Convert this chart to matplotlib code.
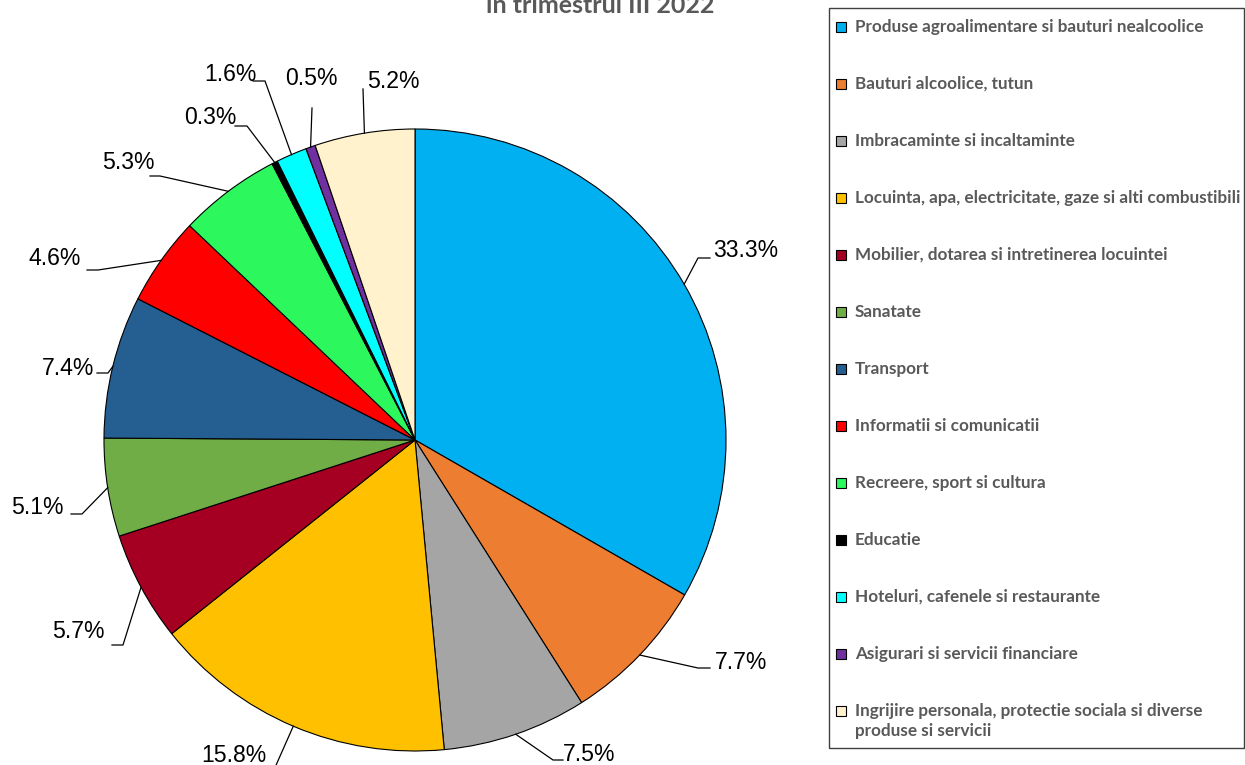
import numpy as np
import matplotlib.pyplot as plt
from matplotlib.patches import Rectangle

# Data
categories = [
    'Produse agroalimentare si bauturi nealcoolice',
    'Bauturi alcoolice, tutun',
    'Imbracaminte si incaltaminte',
    'Locuinta, apa, electricitate, gaze si alti combustibili',
    'Mobilier, dotarea si intretinerea locuintei',
    'Sanatate',
    'Transport',
    'Informatii si comunicatii',
    'Recreere, sport si cultura',
    'Educatie',
    'Hoteluri, cafenele si restaurante',
    'Asigurari si servicii financiare',
    'Ingrijire personala, protectie sociala si diverse\nproduse si servicii',
]
shares = [33.3, 7.7, 7.5, 15.8, 5.7, 5.1, 7.4, 4.6, 5.3, 0.3, 1.6, 0.5, 5.2]
colors = ['#00B0F0', '#ED7D31', '#A5A5A5', '#FFC000', '#A50021', '#70AD47',
          '#255E91', '#FF0000', '#2CF75C', '#000000', '#00FFFF', '#7030A0',
          '#FFF2CC']
title = 'in trimestrul III 2022'

# Layout (pixels): label baseline-left, leader elbow, leader stub end
W, H = 1245, 765
CX, CY, R = 415, 440, 311
label_pos = [(713, 257), (715, 669), (563, 761), (201, 762), (52, 638),
             (11, 514), (42, 375), (28, 265), (102, 169), (184, 124),
             (204, 81), (285, 85), (367, 88)]
elbows = [(698, 258), (698, 668), (553, 760), (273, 772), (123, 645),
          (82, 514), (108, 373), (98, 270), (160, 176), (247, 126),
          (265, 81), (312, 108), (363, 89)]
stub_ends = [(710, 258), (710, 668), (563, 760), (262, 772), (112, 645),
             (71, 514), (97, 373), (87, 270), (150, 176), (235, 126),
             (253, 81), (312, 108), (363, 89)]


def px(p):
    return ((p[0] - CX) / R, (CY - p[1]) / R)


fig = plt.figure(figsize=(W / 100, H / 100), dpi=100)
ax = fig.add_axes([0, 0, 1, 1])

wedges, _ = ax.pie(shares, colors=colors, startangle=90, counterclock=False,
                   radius=1, wedgeprops=dict(edgecolor='black', linewidth=0.8))
ax.set_xlim(-CX / R, (W - CX) / R)
ax.set_ylim(-(H - CY) / R, CY / R)
ax.set_aspect('equal')
ax.axis('off')

# Data labels with leader lines
for w, v, lp, el, se in zip(wedges, shares, label_pos, elbows, stub_ends):
    ang = np.deg2rad((w.theta1 + w.theta2) / 2)
    anchor = (np.cos(ang), np.sin(ang))
    e, s = px(el), px(se)
    ax.plot([anchor[0], e[0], s[0]], [anchor[1], e[1], s[1]],
            color='black', lw=0.9, clip_on=False)
    tx, ty = px(lp)
    ax.text(tx, ty, f'{v:.1f}%', ha='left', va='baseline',
            fontsize=16.6, family='Liberation Sans', color='black')

# Legend box
lx0, ly0, lx1, ly1 = 829, 8, 1244, 748
x0, y0 = px((lx0, ly1))
x1, y1 = px((lx1, ly0))
ax.add_patch(Rectangle((x0, y0), x1 - x0, y1 - y0, fill=False,
                       edgecolor='#404040', lw=1.0, clip_on=False))
for i, (cat, col) in enumerate(zip(categories, colors)):
    yc = 27 + i * 57
    mx, my = px((836, yc + 5))
    ax.add_patch(Rectangle((mx, my), 10 / R, 10 / R, facecolor=col,
                           edgecolor='black', lw=0.8))
    ty_px = yc + 10 if '\n' in cat else yc
    tx, ty = px((855, ty_px))
    ax.text(tx, ty, cat, ha='left', va='center',
            fontsize=12.3, family='Lato', fontweight='bold', color='#595959',
            linespacing=1.3)

fig.text(600 / W, (H - 13) / H, title, ha='center', va='baseline',
         fontsize=18, family='Lato', fontweight='bold', color='#595959')

fig.savefig('out.png', dpi=100)
